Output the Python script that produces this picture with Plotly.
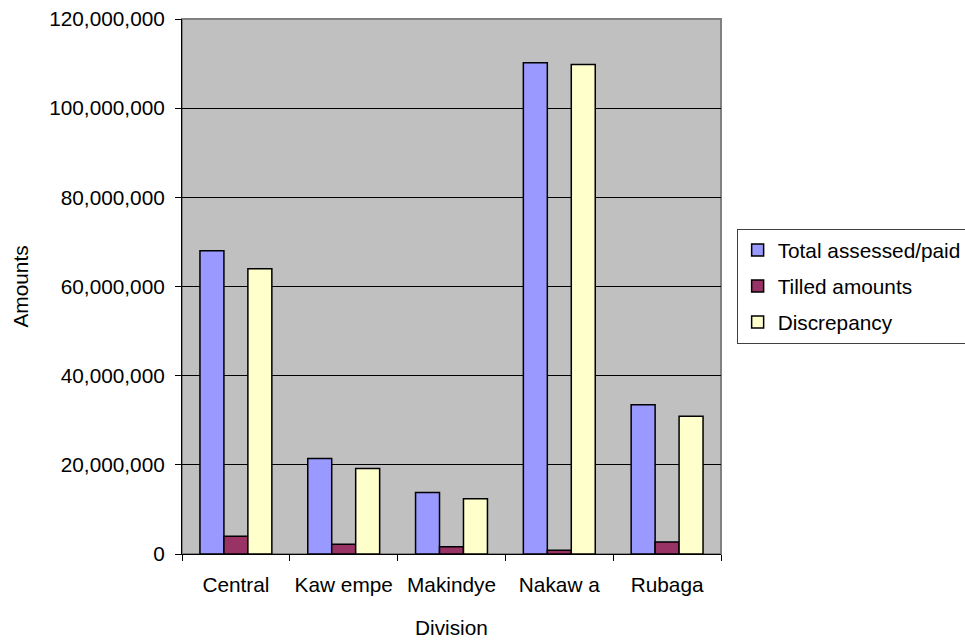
import plotly.graph_objects as go

divisions = ["Central", "Kaw empe", "Makindye", "Nakaw a", "Rubaga"]
total_assessed = [68_000_000, 21_400_000, 13_800_000, 110_200_000, 33_500_000]
tilled_amounts = [4_000_000, 2_200_000, 1_650_000, 850_000, 2_700_000]
discrepancy = [64_000_000, 19_200_000, 12_400_000, 109_800_000, 30_900_000]

y_ticks = [0, 20_000_000, 40_000_000, 60_000_000, 80_000_000, 100_000_000, 120_000_000]
y_tick_text = ["0", "20,000,000", "40,000,000", "60,000,000", "80,000,000",
               "100,000,000", "120,000,000"]

FONT = "Liberation Sans, Arial, sans-serif"
FS = 20.8

series = [
    ("Total assessed/paid", total_assessed, "#9999FF"),
    ("Tilled amounts", tilled_amounts, "#993366"),
    ("Discrepancy", discrepancy, "#FFFFCC"),
]

fig = go.Figure()
for i, (name, vals, color) in enumerate(series):
    fig.add_trace(go.Bar(
        name=name, x=divisions, y=vals, legendgroup=f"g{i}",
        marker=dict(color=color, line=dict(color="black", width=1.5)),
    ))

fig.update_layout(
    width=965, height=640,
    margin=dict(l=182, r=244, t=19, b=86, autoexpand=False),
    paper_bgcolor="white", plot_bgcolor="#C0C0C0",
    barmode="group", bargap=0.333, bargroupgap=0,
    font=dict(family=FONT, size=FS, color="black"),
    showlegend=True,
    legend=dict(
        x=1.029, y=0.6075, xanchor="left", yanchor="top",
        bordercolor="#404040", borderwidth=1, bgcolor="white",
        font=dict(size=FS), tracegroupgap=6, itemwidth=30,
    ),
    xaxis=dict(
        showline=True, linecolor="black", linewidth=1,
        ticks="outside", tickson="boundaries", ticklen=6, tickcolor="black",
        ticklabelstandoff=12, showgrid=False,
    ),
    yaxis=dict(
        range=[0, 120_000_000], tickvals=y_ticks, ticktext=y_tick_text,
        showline=True, linecolor="black", linewidth=1,
        ticks="outside", ticklen=6, tickcolor="black", ticklabelstandoff=6,
        showgrid=True, gridcolor="black", gridwidth=1, zeroline=False,
    ),
    shapes=[dict(
        type="rect", xref="paper", yref="paper", x0=0, x1=1, y0=0, y1=1,
        line=dict(color="#808080", width=2), layer="below",
    )],
    annotations=[
        dict(text="Division", xref="paper", yref="paper", x=0.5, y=-73 / 535,
             xanchor="center", yanchor="middle", showarrow=False,
             font=dict(size=FS)),
        dict(text="Amounts", xref="paper", yref="paper", x=-162 / 539, y=0.5,
             xanchor="center", yanchor="middle", textangle=-90, showarrow=False,
             font=dict(size=FS)),
    ],
)

fig.write_html("out.html")
